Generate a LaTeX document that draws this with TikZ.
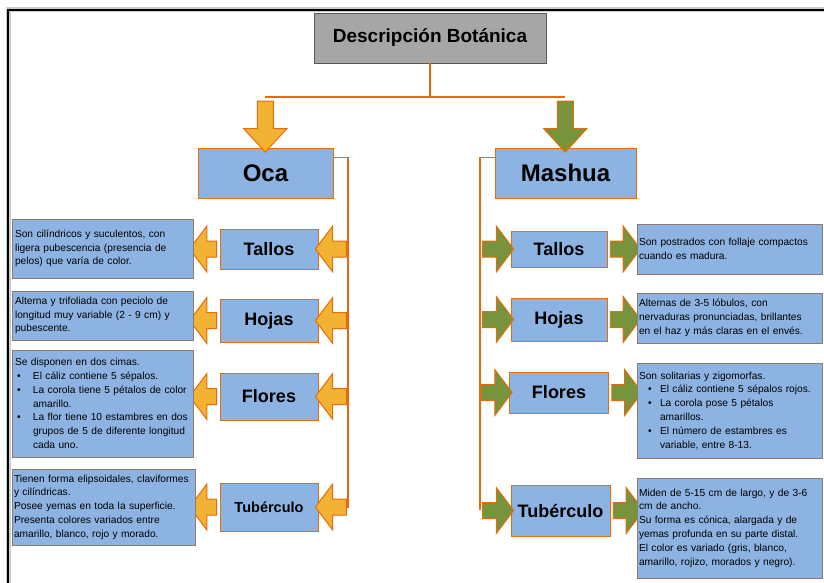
\documentclass[tikz,border=0pt]{standalone}
\usepackage{fontspec}
\setmainfont{Liberation Sans}
\usepackage{tikz}
\usetikzlibrary{calc, shapes.arrows}
\definecolor{boxBlue}{HTML}{8DB3E2}
\definecolor{lineOrange}{HTML}{E46C0A}
\definecolor{arrowGold}{HTML}{F2B233}
\definecolor{arrowGreen}{HTML}{77933C}
\definecolor{titleGray}{HTML}{A6A6A6}
\definecolor{descFrame}{HTML}{8C7B6E}
\newcommand{\vin}[2]{\hspace*{#1}\makebox[#2][l]{\textbullet}}
\newcommand{\sang}[1]{\hspace*{#1}}

\begin{document}
\begin{tikzpicture}[x=1pt, y=-1pt,
    etiqueta/.style={draw=lineOrange, line width=0.8pt, fill=boxBlue, inner sep=0pt,
        font=\bfseries\fontsize{18}{20}\selectfont},
    detalle/.style={draw=descFrame, line width=0.6pt, fill=boxBlue, align=left,
        inner xsep=3pt, inner ysep=0pt, font=\fontsize{10.2}{13.8}\selectfont},
    oarrow/.style={single arrow, draw=lineOrange, line width=1pt, fill=arrowGold,
        inner xsep=0pt, inner ysep=7.5pt, single arrow head extend=15pt, single arrow tip angle=106},
    garrow/.style={oarrow, fill=arrowGreen},
    enlace/.style={lineOrange, line width=1.2pt}]
    \useasboundingbox (0,0) rectangle (824,583);

    % marco
    \draw[gray!40, line width=5pt] (8,583) -- (8,10) -- (824,10);
    \draw[black, line width=2.5pt] (8,583) -- (8,10) -- (824,10);

    \node[draw=gray!70!black, fill=titleGray, minimum width=232pt, minimum height=50pt,
        font=\bfseries\fontsize{19}{22}\selectfont] (titulo) at (430,38) {Descripción Botánica};

    \coordinate (ocaTop) at (265,97);
    \coordinate (mashTop) at (565,97);
    \draw[enlace] (titulo.south) -- (titulo.south |- ocaTop);
    \draw[enlace] (ocaTop) -- (mashTop);

    \node[etiqueta, minimum width=135pt, minimum height=50pt,
        font=\bfseries\fontsize{24}{28}\selectfont] (oca) at (265.5,173) {Oca};
    \node[etiqueta, minimum width=141pt, minimum height=50pt,
        font=\bfseries\fontsize{24}{28}\selectfont] (mashua) at (565.5,173) {Mashua};

    \node[oarrow, rotate=-90, minimum height=51pt, single arrow head extend=13.5pt,
        single arrow tip angle=85] (bajaOca) at ($(ocaTop)!0.5!(oca.north)$) {};
    \node[garrow, rotate=-90, minimum height=51pt, single arrow head extend=13.5pt,
        single arrow tip angle=85] (bajaMashua) at ($(mashTop)!0.5!(mashua.north)$) {};

    % Oca
    \coordinate (ocaEje) at (348,508);
    \draw[enlace] ($(oca.north east)+(0,10)$) -| (ocaEje);

    \node[etiqueta, minimum width=98pt, minimum height=40pt] (tallosO) at (269,249) {Tallos};
    \node[etiqueta, minimum width=98pt, minimum height=43pt] (hojasO) at (269,320.5) {Hojas};
    \node[etiqueta, minimum width=98pt, minimum height=47pt] (floresO) at (269,396.5) {Flores};
    \node[etiqueta, minimum width=98pt, minimum height=48pt,
        font=\bfseries\fontsize{14.5}{17}\selectfont] (tuberO) at (269,507) {Tubérculo};

    \foreach \n in {tallosO, hojasO, floresO, tuberO} {
        \node[oarrow, rotate=180, minimum height=31pt] (ent-\n) at ($(\n.east)+(15.5,0)$) {};
        \node[oarrow, rotate=180, minimum height=27pt] (sal-\n) at ($(\n.west)+(-13.5,0)$) {};
    }

    \node[detalle, text width=175pt, minimum height=59pt] (dTallosO) at (102.5,248.5)
        {Son cilíndricos y suculentos, con\\ ligera pubescencia (presencia de\\ pelos) que varía de color.};
    \node[detalle, text width=175pt, minimum height=49pt] (dHojasO) at (102.5,315.5)
        {Alterna y trifoliada con peciolo de\\ longitud muy variable (2 - 9 cm) y\\ pubescente.};
    \node[detalle, text width=175pt, minimum height=107pt] (dFloresO) at (102.5,403.5)
        {Se disponen en dos cimas.\\
         \vin{2pt}{16pt}El cáliz contiene 5 sépalos.\\
         \vin{2pt}{16pt}La corola tiene 5 pétalos de color\\
         \sang{18pt}amarillo.\\
         \vin{2pt}{16pt}La flor tiene 10 estambres en dos\\
         \sang{18pt}grupos de 5 de diferente longitud\\
         \sang{18pt}cada uno.};
    \node[detalle, text width=179pt, minimum height=76pt, inner xsep=2pt] (dTuberO) at (103.5,507)
        {Tienen forma elipsoidales, claviformes\\ y cilíndricas.\\ Posee yemas en toda la superficie.\\
         Presenta colores variados entre\\ amarillo, blanco, rojo y morado.};

    % Mashua
    \coordinate (mashEje) at (480,510);
    \draw[enlace] ($(mashua.north west)+(0,10)$) -| (mashEje);

    \node[etiqueta, minimum width=96pt, minimum height=36pt] (tallosM) at (559,249) {Tallos};
    \node[etiqueta, minimum width=96pt, minimum height=43pt] (hojasM) at (559,319.5) {Hojas};
    \node[etiqueta, minimum width=99pt, minimum height=41pt] (floresM) at (559,392.5) {Flores};
    \node[etiqueta, minimum width=99pt, minimum height=51pt] (tuberM) at (560.5,510.5) {Tubérculo};

    \foreach \n in {tallosM, hojasM, floresM, tuberM} {
        \node[garrow, minimum height=31pt] (ent-\n) at ($(\n.west)+(-15.5,0)$) {};
        \node[garrow, minimum height=30pt] (sal-\n) at ($(\n.east)+(15,0)$) {};
    }

    \node[detalle, text width=181pt, minimum height=50pt, inner xsep=2pt] (dTallosM) at (729.5,249)
        {Son postrados con follaje compactos\\ cuando es madura.};
    \node[detalle, text width=181pt, minimum height=50pt, inner xsep=2pt] (dHojasM) at (729.5,318)
        {Alternas de 3-5 lóbulos, con\\ nervaduras pronunciadas, brillantes\\ en el haz y más claras en el envés.};
    \node[detalle, text width=181pt, minimum height=95pt, inner xsep=2pt] (dFloresM) at (729.5,410.5)
        {Son solitarias y zigomorfas.\\
         \vin{9pt}{12pt}El cáliz contiene 5 sépalos rojos.\\
         \vin{9pt}{12pt}La corola pose 5 pétalos\\
         \sang{21pt}amarillos.\\
         \vin{9pt}{12pt}El número de estambres es\\
         \sang{21pt}variable, entre 8-13.};
    \node[detalle, text width=181pt, minimum height=100pt, inner xsep=2pt] (dTuberM) at (729.5,528)
        {Miden de 5-15 cm de largo, y de 3-6\\ cm de ancho.\\ Su forma es cónica, alargada y de\\
         yemas profunda en su parte distal.\\ El color es variado (gris, blanco,\\
         amarillo, rojizo, morados y negro).};
\end{tikzpicture}
\end{document}
